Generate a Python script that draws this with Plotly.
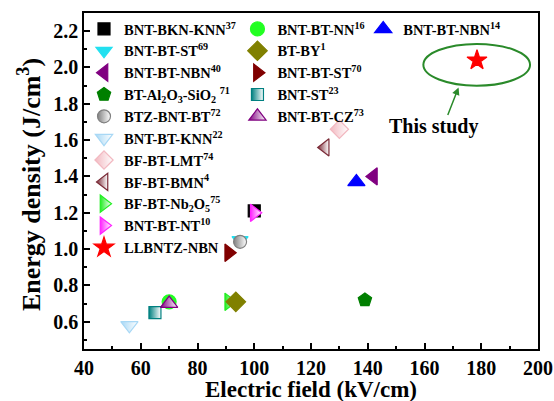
import plotly.graph_objects as go

# Energy storage density vs. applied electric field for lead-free ceramics
names = [
    "BNT-BKN-KNN<sup>37</sup>", "BNT-BT-ST<sup>69</sup>", "BNT-BT-NBN<sup>40</sup>",
    "BT-Al<sub>2</sub>O<sub>3</sub>-SiO<sub>2</sub> <sup>71</sup>", "BTZ-BNT-BT<sup>72</sup>",
    "BNT-BT-KNN<sup>22</sup>", "BF-BT-LMT<sup>74</sup>", "BF-BT-BMN<sup>4</sup>",
    "BF-BT-Nb<sub>2</sub>O<sub>5</sub><sup>75</sup>", "BNT-BT-NT<sup>10</sup>", "LLBNTZ-NBN",
    "BNT-BT-NN<sup>16</sup>", "BT-BY<sup>1</sup>", "BNT-BT-ST<sup>70</sup>",
    "BNT-ST<sup>23</sup>", "BNT-BT-CZ<sup>73</sup>",
    "BNT-BT-NBN<sup>14</sup>",
]
field = [100, 95, 142, 139, 95, 56, 130, 125, 91, 100, 178.5, 70, 93.5, 91, 65, 70, 136]
energy = [1.21, 1.05, 1.40, 0.72, 1.04, 0.58, 1.66, 1.56, 0.71, 1.20, 2.04, 0.71, 0.71, 0.98, 0.65, 0.70, 1.37]
symbols = ["square", "triangle-down", "triangle-left", "pentagon", "circle",
           "triangle-down", "diamond", "triangle-left", "triangle-right", "triangle-right", "star",
           "circle", "diamond", "triangle-right", "square", "triangle-up", "triangle-up"]
colors = ["#000000", "#22e0f0", "#800080", "#007f00", "#808080",
          "#a8d8f5", "#f2b8c0", "#7a2a36", "#22ee22", "#ff22ff", "#ff0000",
          "#22ff22", "#808000", "#800000", "#008080", "#800080", "#0000ff"]
half_filled = [False, False, False, False, True, True, True, True, True, True, False,
               False, False, False, True, True, False]
sizes = [12, 14, 15, 14, 13, 15, 14, 15, 15, 15, 15, 14, 15, 15, 12, 15, 15]
legend_of = ["legend"] * 11 + ["legend2"] * 5 + ["legend3"]

x_title = "Electric field (kV/cm)"
y_title = "Energy density (J/cm<sup>3</sup>)"

font_family = "Liberation Serif"

fig = go.Figure()
for i, nm in enumerate(names):
    marker = dict(symbol=symbols[i], color=colors[i], size=sizes[i],
                  line=dict(color=colors[i], width=1.2))
    if half_filled[i]:
        marker["gradient"] = dict(type="horizontal", color="#ffffff")
    fig.add_trace(go.Scatter(
        x=[field[i]], y=[energy[i]], mode="markers", name=nm,
        marker=marker, legend=legend_of[i], cliponaxis=False,
    ))

# "This study" highlight: ellipse around the point, arrow and label
fig.add_shape(type="circle", xref="x", yref="y", x0=159.6, x1=197.2, y0=1.90, y1=2.13,
              line=dict(color="#2a8a2a", width=2))
fig.add_annotation(x=172.0, y=1.89, ax=168.0, ay=1.73, xref="x", yref="y", axref="x", ayref="y",
                   text="", showarrow=True, arrowhead=2, arrowsize=1, arrowwidth=1.5,
                   arrowcolor="#2a8a2a")
fig.add_annotation(x=163.5, y=1.676, xref="x", yref="y", text="This study", showarrow=False,
                   font=dict(family=font_family, size=20, color="black", weight="bold"))

# axis titles, placed outside the tick labels
fig.add_annotation(x=0.5, y=-0.1194, xref="paper", yref="paper", text=x_title,
                   showarrow=False, xanchor="center", yanchor="middle",
                   font=dict(family=font_family, size=23, color="black", weight="bold"))
fig.add_annotation(x=-0.1196, y=0.49, xref="paper", yref="paper", text=y_title,
                   showarrow=False, xanchor="center", yanchor="middle", textangle=-90,
                   font=dict(family=font_family, size=26, color="black", weight="bold"))

legend_common = dict(font=dict(family=font_family, size=14.5, color="black", weight="bold"),
                     bgcolor="rgba(0,0,0,0)", borderwidth=0, xanchor="left", yanchor="top",
                     itemclick=False)

axis_common = dict(showline=True, linecolor="black", linewidth=1.5, mirror=True,
                   ticks="inside", ticklen=6, tickwidth=1.5, tickcolor="black",
                   showgrid=False, zeroline=False, automargin=False,
                   tickfont=dict(family=font_family, size=20, color="black", weight="bold"))

fig.update_layout(
    width=554, height=401,
    margin=dict(l=84, r=16, t=13, b=52, autoexpand=False),
    paper_bgcolor="white", plot_bgcolor="white",
    showlegend=True,
    legend=dict(x=-0.0, y=1.0, **legend_common),
    legend2=dict(x=0.338, y=1.0, **legend_common),
    legend3=dict(x=0.615, y=1.0, **legend_common),
    xaxis=dict(range=[40, 200], dtick=20, tick0=40,
               minor=dict(ticks="inside", ticklen=3, dtick=10, tickcolor="black", tickwidth=1.5),
               **axis_common),
    yaxis=dict(range=[0.45, 2.3], tickvals=[0.6, 0.8, 1.0, 1.2, 1.4, 1.6, 1.8, 2.0, 2.2],
               tickformat=".1f",
               minor=dict(ticks="inside", ticklen=3, dtick=0.1, tick0=0.5, tickcolor="black", tickwidth=1.5),
               **axis_common),
)

fig.write_html("out.html")
